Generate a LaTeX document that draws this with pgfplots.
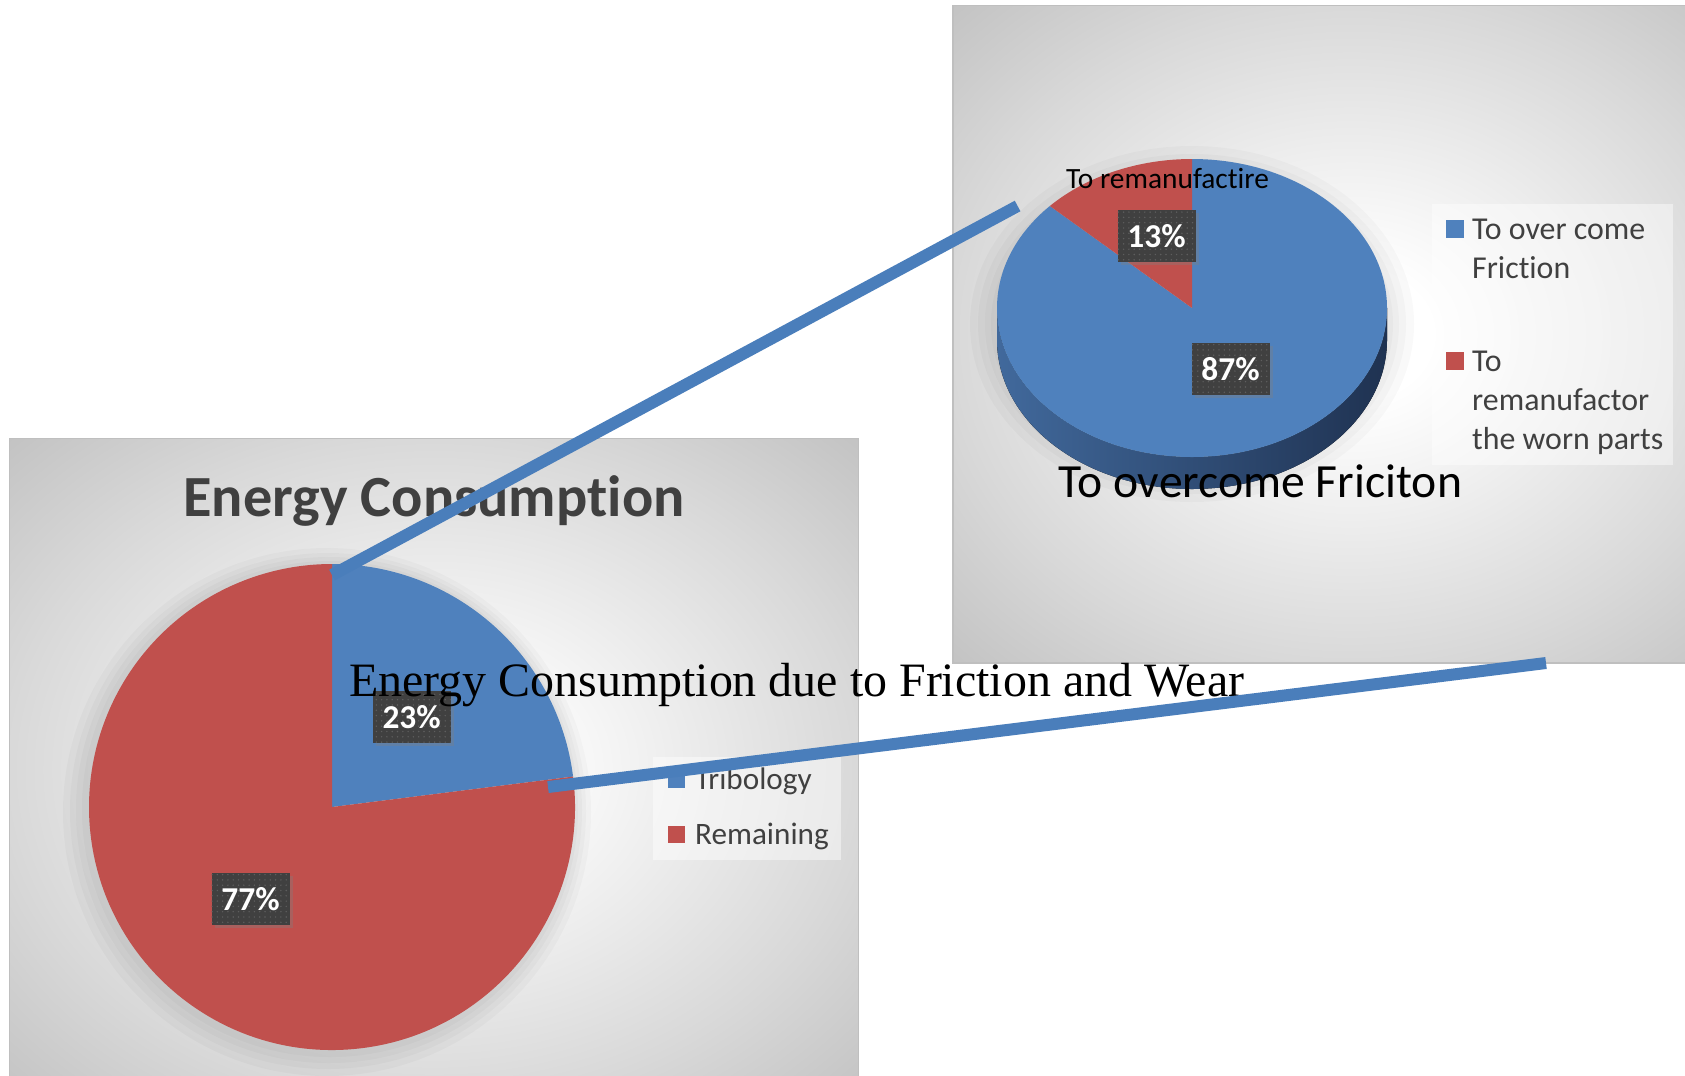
\documentclass[border=0pt]{standalone}
\usepackage{pgfplots}
\pgfplotsset{compat=1.18}
\usepackage{pgfplotstable}
\usepackage{fontspec}
\setmainfont{Carlito}[Ligatures=NoCommon]
\newfontfamily\serifface{Liberation Serif}
\usetikzlibrary{patterns.meta,shadows}

\definecolor{sliceblue}{HTML}{4F81BD}
\definecolor{slicered}{HTML}{C0504D}
\definecolor{linkblue}{HTML}{4A7EBB}
\definecolor{labelbg}{HTML}{404040}
\definecolor{labeldot}{HTML}{5E5E5E}
\definecolor{titlegray}{HTML}{404040}
\definecolor{legendgray}{HTML}{404040}
\definecolor{framegray}{HTML}{BFBFBF}
\definecolor{sidelight}{HTML}{41699C}
\definecolor{sidemid}{HTML}{233A5D}
\definecolor{sidedark}{HTML}{1F3251}

% soft radial glow used for both chart areas
\pgfdeclareradialshading{panelglow}{\pgfpoint{0bp}{0bp}}{%
  color(0bp)=(white); color(5bp)=(white); color(25bp)=(black!15);
  color(36bp)=(black!24); color(50bp)=(black!24)}

% shares of the two charts (percent)
\pgfplotstableread{
share value
Tribology 23
Remaining 77
}\energytable
\pgfplotstableread{
share value
Friction 87
Remanufacture 13
}\frictiontable

\pgfplotstablegetelem{0}{value}\of\energytable
\pgfmathsetmacro\angTrib{90-3.6*\pgfplotsretval}
\pgfplotstablegetelem{0}{value}\of\frictiontable
\pgfmathsetmacro\angFric{90-3.6*\pgfplotsretval}

\tikzset{
  pctlabel/.style={
    fill=labelbg, inner sep=0pt, minimum width=78bp, minimum height=52bp,
    text=white, font=\bfseries\fontsize{33.5}{33}\selectfont,
    drop shadow={shadow xshift=3bp, shadow yshift=-3bp, opacity=0.35},
    postaction={pattern={Dots[distance=5.3bp, radius=0.8bp]}, pattern color=labeldot}},
  legtext/.style={anchor=base west, inner sep=0pt, text=legendgray},
  halo/.style={fill=black, opacity=0.022},
}

\begin{document}
\begin{tikzpicture}
\fill[white] (0,0) rectangle (1685bp,1076bp);
\begin{axis}[
  at={(0,0)}, anchor=south west,
  width=1685bp, height=1076bp, scale only axis,
  xmin=0, xmax=1685, ymin=0, ymax=1076, y dir=reverse,
  hide axis, clip=false,
]
% chart areas
\path[shading=panelglow, draw=framegray, line width=1.5bp]
  (axis cs:9.7,438.5) rectangle (axis cs:858.5,1100);
\path[shading=panelglow, draw=framegray, line width=1.5bp]
  (axis cs:953,5.5) rectangle (axis cs:1750,663);

% ---- Energy Consumption pie ----
\coordinate (L) at (axis cs:332,807);
\fill[halo] (axis cs:327,812) circle[radius=264bp];
\fill[halo] (axis cs:328,811) circle[radius=258bp];
\fill[halo] (axis cs:329,810) circle[radius=253bp];
\fill[halo] (axis cs:330,809) circle[radius=248bp];
\fill[sliceblue] (L) -- ++(90:243bp)
  arc[start angle=90, end angle=\angTrib, radius=243bp] -- cycle;
\fill[slicered] (L) -- ++(\angTrib:243bp)
  arc[start angle=\angTrib, end angle=-270, radius=243bp] -- cycle;
\node[pctlabel] at (axis cs:411.6,717) {23\%};
\node[pctlabel] at (axis cs:250.5,899) {77\%};

\node[anchor=base, inner sep=0pt, text=titlegray,
  font=\bfseries\fontsize{58.5}{70}\selectfont] at (axis cs:434,516.5) {Energy Consumption};

\fill[white, opacity=0.45] (axis cs:653,757) rectangle (axis cs:841,860);
\fill[sliceblue] (axis cs:667.5,770.5) rectangle (axis cs:684.5,787.5);
\fill[slicered] (axis cs:667.5,825.5) rectangle (axis cs:684.5,842.5);
\node[legtext, font=\fontsize{31.3}{36}\selectfont] at (axis cs:695,789) {Tribology};
\node[legtext, font=\fontsize{31.3}{36}\selectfont] at (axis cs:695,844) {Remaining};

% ---- To overcome Friction pie (tilted) ----
\coordinate (R) at (axis cs:1192,308);
\fill[halo] (axis cs:1192,324) ellipse[x radius=222bp, y radius=178bp];
\fill[halo] (axis cs:1192,324) ellipse[x radius=214bp, y radius=170bp];
\fill[halo] (axis cs:1192,324) ellipse[x radius=207bp, y radius=163bp];
\fill[halo] (axis cs:1192,324) ellipse[x radius=201bp, y radius=157bp];
\fill[left color=sidelight, middle color=sidemid, right color=sidedark]
  (R) ++(180:195bp and 149bp)
  arc[start angle=180, end angle=360, x radius=195bp, y radius=149bp]
  -- ++(0,-32bp)
  arc[start angle=360, end angle=180, x radius=195bp, y radius=149bp] -- cycle;
\fill[sliceblue] (R) -- ++(90:195bp and 149bp)
  arc[start angle=90, end angle=\angFric, x radius=195bp, y radius=149bp] -- cycle;
\fill[slicered] (R) -- ++(\angFric:195bp and 149bp)
  arc[start angle=\angFric, end angle=-270, x radius=195bp, y radius=149bp] -- cycle;
\node[pctlabel] at (axis cs:1156.5,236) {13\%};
\node[pctlabel] at (axis cs:1230.5,369) {87\%};
\node[anchor=base west, inner sep=0pt, font=\fontsize{29.5}{34}\selectfont]
  at (axis cs:1066,188) {To remanufactire};
\node[anchor=base west, inner sep=0pt, font=\fontsize{47.8}{56}\selectfont]
  at (axis cs:1058,497) {To overcome Friciton};

\fill[white, opacity=0.45] (axis cs:1432,204) rectangle (axis cs:1673,465);
\fill[sliceblue] (axis cs:1446,220) rectangle (axis cs:1464,238);
\fill[slicered] (axis cs:1446,352) rectangle (axis cs:1464,370);
\node[legtext, font=\fontsize{32}{39}\selectfont] at (axis cs:1472,239) {To over come};
\node[legtext, font=\fontsize{32}{39}\selectfont] at (axis cs:1472,278) {Friction};
\node[legtext, font=\fontsize{32}{39}\selectfont] at (axis cs:1472,371) {To};
\node[legtext, font=\fontsize{32}{39}\selectfont] at (axis cs:1472,410) {remanufactor};
\node[legtext, font=\fontsize{32}{39}\selectfont] at (axis cs:1472,449) {the worn parts};

% caption across both charts
\node[anchor=base west, inner sep=0pt, font=\serifface\fontsize{48.1}{56}\selectfont]
  at (axis cs:349,696) {Energy Consumption due to Friction and Wear};

% connectors between the charts
\draw[linkblue, line width=12bp] (axis cs:332,575) -- (axis cs:1017.6,206);
\draw[linkblue, line width=12bp] (axis cs:548,787) -- (axis cs:1546,663);
\end{axis}
\pgfresetboundingbox
\useasboundingbox (0,0) rectangle (1685bp,1076bp);
\end{tikzpicture}
\end{document}
